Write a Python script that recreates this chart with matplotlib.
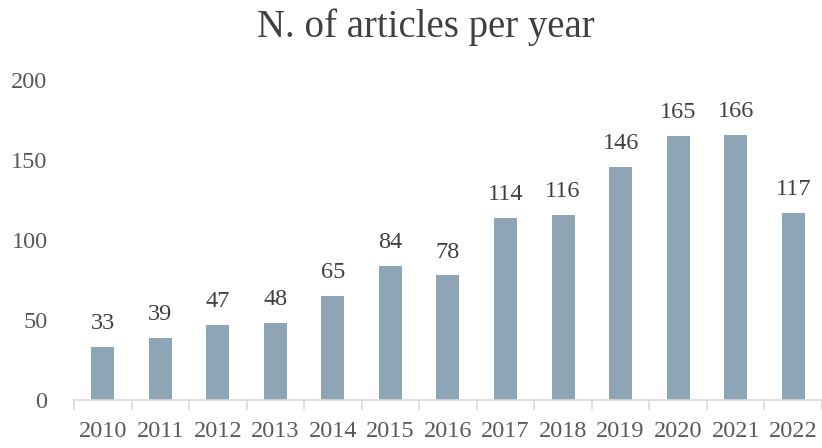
import matplotlib
matplotlib.use("Agg")
import matplotlib.pyplot as plt
import numpy as np

years = ["2010", "2011", "2012", "2013", "2014", "2015", "2016",
         "2017", "2018", "2019", "2020", "2021", "2022"]
articles = [33, 39, 47, 48, 65, 84, 78, 114, 116, 146, 165, 166, 117]

plt.rcParams['font.family'] = ['Liberation Serif', 'DejaVu Serif']
text_color = '#595959'
bar_color = '#8EA5B5'

fig = plt.figure(figsize=(8.22, 4.48), dpi=100)
ax = fig.add_axes([0.090, 0.107, 0.910, 0.714])

x = np.arange(len(years))
bars = ax.bar(x, articles, width=0.4, color=bar_color)

for xi, v in zip(x, articles):
    ax.text(xi, v + 8, str(v), ha='center', va='bottom',
            fontsize=17.5, color='#404040')

ax.set_xlim(-0.5, len(years) - 0.5)
ax.set_ylim(0, 200)
ax.set_yticks([0, 50, 100, 150, 200])
ax.tick_params(axis='y', length=0, pad=19, labelsize=17.5, labelcolor=text_color)

# category labels centred on bars, tick marks between categories
ax.set_xticks(x)
ax.set_xticklabels(years)
ax.tick_params(axis='x', which='major', length=0, pad=15,
               labelsize=17.5, labelcolor=text_color)
ax.set_xticks(np.arange(len(years) + 1) - 0.5, minor=True)
ax.tick_params(axis='x', which='minor', length=7, width=1.2, color='#d9d9d9')

for side in ['top', 'right', 'left']:
    ax.spines[side].set_visible(False)
ax.spines['bottom'].set_color('#d9d9d9')
ax.spines['bottom'].set_linewidth(1.2)

fig.text(0.518, 0.94, "N. of articles per year", ha='center', va='center',
         fontsize=28, color='#404040')

fig.savefig("out.png", dpi=100, facecolor='white')
